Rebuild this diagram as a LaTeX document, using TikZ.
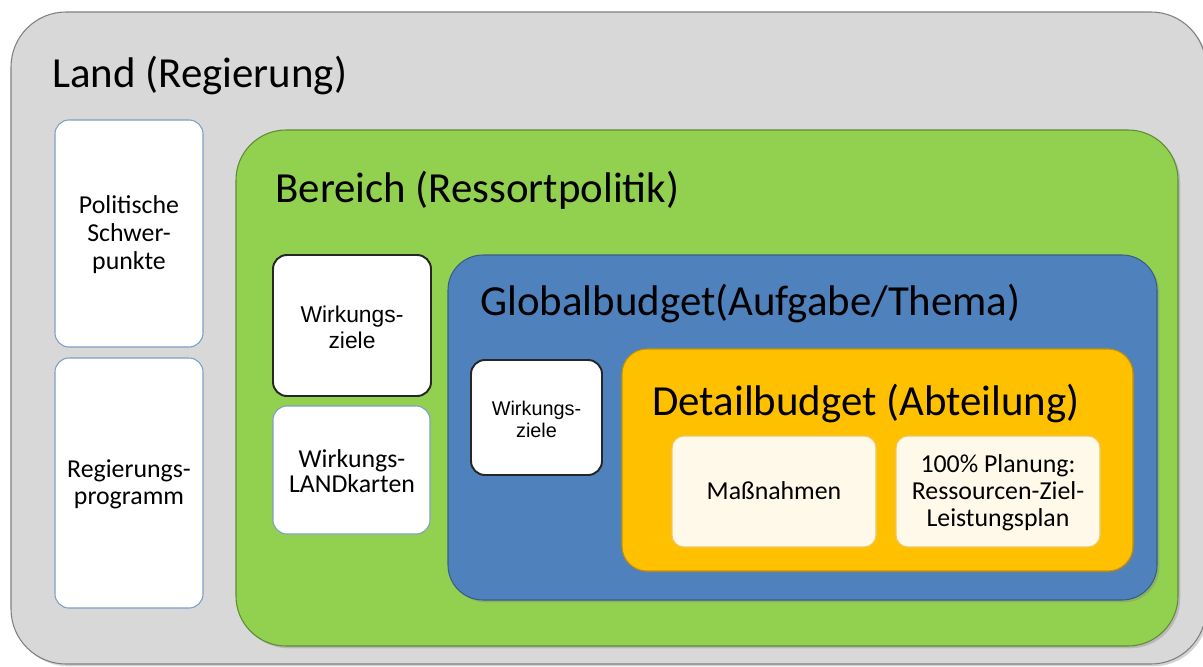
\documentclass[tikz,border=0pt]{standalone}
\usepackage{fontspec}
\setmainfont{Carlito}
\newfontfamily\arialfont{Liberation Sans}
\usetikzlibrary{shadows}
\definecolor{landgray}{HTML}{D8D8D8}
\definecolor{landline}{HTML}{7F7F7F}
\definecolor{bereichgreen}{HTML}{92D050}
\definecolor{bereichline}{HTML}{5E8B33}
\definecolor{globalblue}{HTML}{4F81BD}
\definecolor{globalline}{HTML}{385D8A}
\definecolor{detailorange}{HTML}{FFC000}
\definecolor{detailline}{HTML}{C49400}
\definecolor{creamfill}{HTML}{FEF9E9}
\definecolor{creamline}{HTML}{F0C668}
\definecolor{cardline}{HTML}{7F9DC6}
\tikzset{
  panel/.style={rounded corners=#1, line width=0.6pt,
    drop shadow={shadow xshift=1.3pt, shadow yshift=-1.3pt, opacity=.35}},
  card/.style={rounded corners=0.28cm, fill=white, draw=cardline, line width=0.6pt},
  goalcard/.style={rounded corners=0.28cm, fill=white, draw=black!85, line width=1.1pt},
  creamcard/.style={rounded corners=0.24cm, fill=creamfill, draw=creamline, line width=0.6pt},
  headline/.style={inner sep=0pt, font=\fontsize{24.4}{29}\selectfont},
  note/.style={inner sep=0pt, align=center, font=\fontsize{14.7}{15.3}\selectfont},
  goalnote/.style={inner sep=0pt, align=center}
}
\begin{document}
\begin{tikzpicture}[x=0.02cm,y=-0.02cm]
	\useasboundingbox (0,0) rectangle (1203,666);
	\clip (0,0) rectangle (1203,666);
	\draw[panel=1.1cm, fill=landgray, draw=landline] (11,12) rectangle (1206,664);
	\node[headline, anchor=base west] (land) at (52,87) {Land (Regierung)};
	\draw[card] (55,120) rectangle (203,347);
	\node[note, font=\fontsize{14.7}{15.9}\selectfont] (schwerpunkte) at (129,235) {Politische\\Schwer-\\punkte};
	\draw[card] (55,358) rectangle (203,608);
	\node[note] (programm) at (129,484) {Regierungs-\\programm};
	\draw[panel=1cm, fill=bereichgreen, draw=bereichline] (236,130) rectangle (1178,646);
	\node[headline, anchor=base west] (bereich) at (275,202) {Bereich (Ressortpolitik)};
	\draw[goalcard] (273,255) rectangle (431,396);
	\node[goalnote, font=\arialfont\fontsize{13}{14.7}\selectfont] (ziele) at (352,327) {Wirkungs-\\ziele};
	\draw[card] (273,406) rectangle (430,534);
	\node[note, font=\fontsize{14.7}{14.3}\selectfont] (karten) at (352,471) {Wirkungs-\\LANDkarten};
	\draw[panel=0.7cm, fill=globalblue, draw=globalline] (448,255) rectangle (1157,600);
	\node[headline, anchor=base west] (global) at (480,315) {Globalbudget(Aufgabe/Thema)};
	\draw[goalcard] (471,360) rectangle (602,475);
	\node[goalnote, font=\arialfont\fontsize{11.3}{12.5}\selectfont] (globalziele) at (536.5,419) {Wirkungs-\\ziele};
	\draw[panel=0.5cm, fill=detailorange, draw=detailline] (622,349) rectangle (1133,571);
	\node[headline, anchor=base west] (detail) at (652,415) {Detailbudget (Abteilung)};
	\draw[creamcard] (672,436) rectangle (876,547);
	\node[note] (massnahmen) at (774,491) {Maßnahmen};
	\draw[creamcard] (896,436) rectangle (1100,547);
	\node[note] (planung) at (998,493) {100\% Planung:\\Ressourcen-Ziel-\\Leistungsplan};
\end{tikzpicture}
\end{document}
